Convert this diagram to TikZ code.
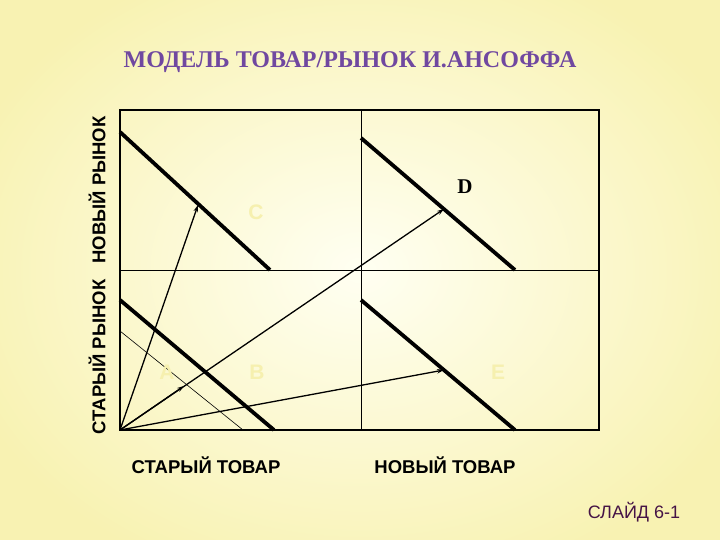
\documentclass[tikz,border=0pt]{standalone}
\usepackage{fontspec}
\setmainfont{Liberation Serif}
\newfontfamily\arial{Liberation Sans}
\usetikzlibrary{arrows.meta}
\definecolor{bgedge}{RGB}{248,242,178}
\definecolor{bgmid}{RGB}{255,255,242}
\definecolor{titlecol}{RGB}{112,72,160}
\definecolor{faint}{RGB}{246,240,175}
\definecolor{slidecol}{RGB}{70,20,70}
\tikzset{
  frameline/.style={line width=2pt},
  divider/.style={line width=0.9pt},
  demand/.style={line width=3.8pt},
  thinline/.style={line width=0.6pt},
  growth/.style={line width=1.3pt,-{Stealth[length=7pt,width=4.5pt]}},
  axislabel/.style={font=\arial\bfseries\fontsize{18.5}{22}\selectfont},
  faintletter/.style={font=\arial\bfseries\fontsize{21}{25}\selectfont,text=faint},
}
\begin{document}
\begin{tikzpicture}[x=1pt,y=-1pt]
\useasboundingbox (0,0) rectangle (720,540);
\shade[inner color=bgmid,outer color=bgedge] (-60,-60) rectangle (780,600);
% frame
\coordinate (o) at (120,430);
\draw[frameline] (120,110) rectangle (599,430);
\draw[divider] (361,110) -- (361,430);
\draw[divider] (120,270) -- (599,270);
% demand lines
\coordinate (c1) at (120,132); \coordinate (c2) at (270,270);
\coordinate (d1) at (361,138); \coordinate (d2) at (515,270);
\coordinate (a1) at (120,300); \coordinate (a2) at (274,430);
\coordinate (e1) at (361,300); \coordinate (e2) at (515,430);
\coordinate (t1) at (120,331); \coordinate (t2) at (243,430);
\draw[demand] (c1) -- (c2);
\draw[demand] (d1) -- (d2);
\draw[demand] (a1) -- (a2);
\draw[demand] (e1) -- (e2);
\draw[thinline] (t1) -- (t2);
% arrow targets
\coordinate (tc) at (198,205);
\coordinate (td) at (444,209);
\coordinate (ta) at (184,386);
\coordinate (te) at (444,370);
\draw[growth] (o) -- (tc);
\draw[growth] (o) -- (td);
\draw[growth] (o) -- (ta);
\draw[growth] (o) -- (te);
% letters
\node[faintletter] (lc) at (256,212) {C};
\node[font=\bfseries\fontsize{21}{25}\selectfont] (ld) at (465,187) {D};
\node[faintletter] (la) at (167,372) {A};
\node[faintletter] (lb) at (257,372) {B};
\node[faintletter] (le) at (498,372) {E};
% labels
\node[font=\bfseries\fontsize{24}{28}\selectfont,text=titlecol] (title) at (350,62) {МОДЕЛЬ ТОВАР/РЫНОК И.АНСОФФА};
\node[axislabel,rotate=90] (nm) at (97,190) {НОВЫЙ РЫНОК};
\node[axislabel,rotate=90] (sm) at (97,357) {СТАРЫЙ РЫНОК};
\node[axislabel] (sg) at (206,465) {СТАРЫЙ ТОВАР};
\node[axislabel] (ng) at (445,465) {НОВЫЙ ТОВАР};
\node[font=\arial\fontsize{18}{21}\selectfont,text=slidecol] (slide) at (634,512) {СЛАЙД 6-1};
\end{tikzpicture}
\end{document}
